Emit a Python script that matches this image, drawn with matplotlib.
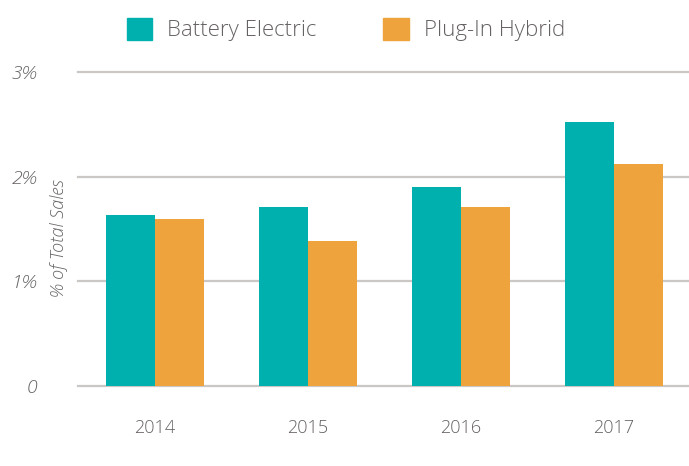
import numpy as np
import matplotlib.pyplot as plt
from matplotlib.patches import Patch

plt.rcParams['font.family'] = ['Open Sans', 'DejaVu Sans']

# data
years = ["2014", "2015", "2016", "2017"]
battery_electric = [1.63, 1.71, 1.90, 2.52]
plug_in_hybrid = [1.60, 1.39, 1.71, 2.12]
y_ticks = [0, 1, 2, 3]
y_tick_labels = ["0", "1%", "2%", "3%"]

teal = "#00b0ae"
orange = "#eea33d"
grid_c = "#cbc7c5"
text_c = "#666261"

fig = plt.figure(figsize=(6.89, 4.66), dpi=100)
ax = fig.add_axes([0.113, 0.1717, 0.887, 0.6738])

x = np.arange(len(years))
w = 0.32
ax.bar(x - w / 2, battery_electric, w, color=teal, zorder=3)
ax.bar(x + w / 2, plug_in_hybrid, w, color=orange, zorder=3)

ax.set_xlim(-0.505, 3.49)
ax.set_ylim(0, 3)
for t in y_ticks:
    ax.axhline(t, color=grid_c, lw=1.6, zorder=1, clip_on=False)

for s in ax.spines.values():
    s.set_visible(False)

ax.set_xticks(x)
ax.set_xticklabels(years, fontsize=13, color=text_c, fontweight='light')
ax.set_yticks(y_ticks)
ax.set_yticklabels(y_tick_labels, fontsize=14, color=text_c, style='italic', fontweight='light')
ax.tick_params(axis='both', length=0)
ax.tick_params(axis='y', pad=29)
ax.tick_params(axis='x', pad=24)

fig.text(0.085, 0.49, "% of Total Sales", rotation=90, ha='center', va='center',
         fontsize=13, color=text_c, style='italic', fontweight='light')

handles = [Patch(color=teal), Patch(color=orange)]
fig.legend(handles, ["Battery Electric", "Plug-In Hybrid"], loc='upper left',
           bbox_to_anchor=(0.155, 1.005), ncol=2, frameon=False,
           handlelength=1.14, handleheight=1.14, handletextpad=0.68,
           columnspacing=3.0, labelcolor=text_c, prop={'weight': 'light', 'size': 16})

fig.savefig("out.png", dpi=100)
